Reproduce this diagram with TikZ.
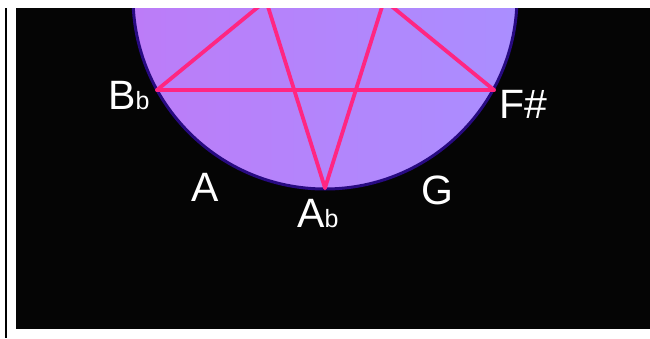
\documentclass[tikz,border=0pt]{standalone}
\usepackage{fontspec}
\setmainfont{Liberation Sans}
\definecolor{bgblack}{RGB}{5,5,5}
\definecolor{discL}{RGB}{188,124,248}
\definecolor{discR}{RGB}{170,142,255}
\definecolor{rim}{RGB}{40,10,130}
\definecolor{starpink}{RGB}{255,38,130}
\tikzset{
  notelabel/.style={text=white, inner sep=0pt, anchor=base west, font=\fontsize{41}{43}\selectfont},
  starline/.style={draw=starpink, line width=3.8pt, line join=round, line cap=round},
}
\newcommand{\flatsub}{{\fontsize{25}{27}\selectfont b}}
\begin{document}
\begin{tikzpicture}[x=1pt,y=-1pt]
\useasboundingbox (0,0) rectangle (650,338);
% left rule
\draw[line width=2pt, black] (5.7,8) -- (5.7,338);
% black panel
\fill[bgblack] (16,8) rectangle (650,329);
\begin{scope}
\clip (16,8) rectangle (650,329);
% disc
\shade[left color=discL, right color=discR] (325,-3) circle[radius=192];
\draw[rim, line width=3pt] (325,-3) circle[radius=192];
% pentagram vertices
\coordinate (bb) at (157,90);
\coordinate (fs) at (494,90);
\coordinate (ab) at (325,188);
\coordinate (ul) at (225,-130);
\coordinate (ur) at (425,-130);
\draw[starline] (bb) -- (fs);
\draw[starline] (bb) -- (ur);
\draw[starline] (fs) -- (ul);
\draw[starline] (ab) -- (ul);
\draw[starline] (ab) -- (ur);
\end{scope}
% labels
\node[notelabel] (lbb) at (108,109) {B\flatsub};
\node[notelabel] (lfs) at (499,118) {F\#};
\node[notelabel] (la)  at (191,201) {A};
\node[notelabel] (lg)  at (421,204) {G};
\node[notelabel] (lab) at (297,227) {A\flatsub};
\end{tikzpicture}
\end{document}
